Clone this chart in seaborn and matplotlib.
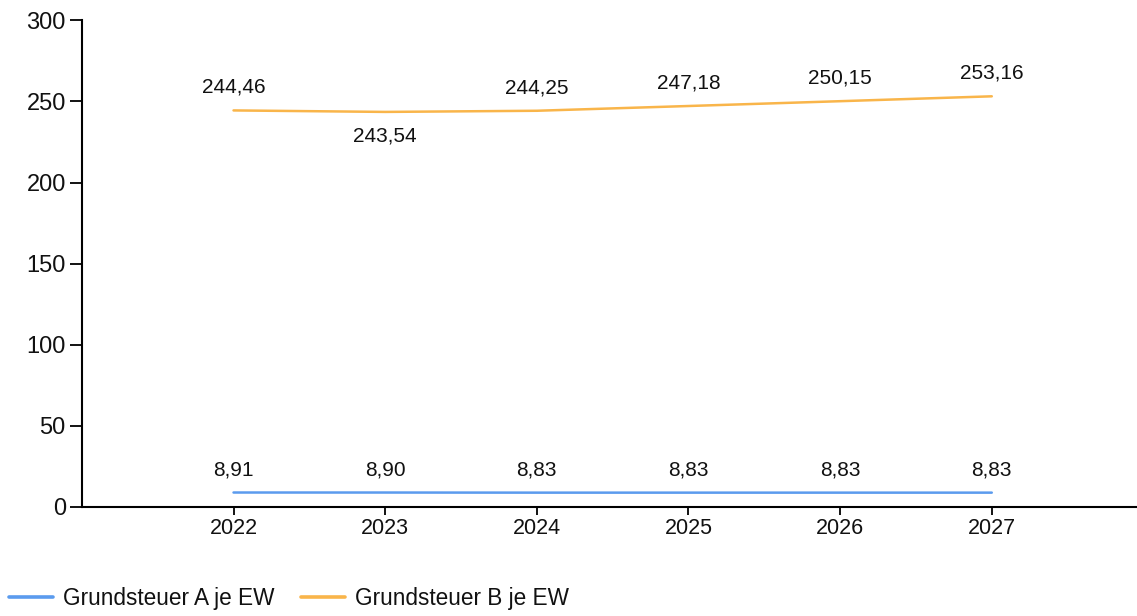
import matplotlib
matplotlib.use("Agg")
import matplotlib.pyplot as plt
import seaborn as sns
import pandas as pd
from matplotlib.lines import Line2D

years = [2022, 2023, 2024, 2025, 2026, 2027]
grundsteuer_a = [8.91, 8.90, 8.83, 8.83, 8.83, 8.83]
grundsteuer_b = [244.46, 243.54, 244.25, 247.18, 250.15, 253.16]
series_names = ["Grundsteuer A je EW", "Grundsteuer B je EW"]
y_ticks = [0, 50, 100, 150, 200, 250, 300]

sns.set_style("ticks")
plt.rcParams["font.family"] = ["Liberation Sans", "DejaVu Sans"]

df = pd.DataFrame({
    "Jahr": years * 2,
    "Wert": grundsteuer_a + grundsteuer_b,
    "Serie": [series_names[0]] * len(years) + [series_names[1]] * len(years),
})

colors = {series_names[0]: "#5B9BEE", series_names[1]: "#F9B54A"}

fig = plt.figure(figsize=(11.37, 6.16), dpi=100)
ax = fig.add_axes([0.072, 0.177, 0.927, 0.79])
sns.lineplot(data=df, x="Jahr", y="Wert", hue="Serie", palette=colors,
             linewidth=1.8, ax=ax, legend=False)

def fmt(v):
    return f"{v:.2f}".replace(".", ",")

for vals in (grundsteuer_a, grundsteuer_b):
    for i, (x, v) in enumerate(zip(years, vals)):
        below = 0 < i < len(vals) - 1 and v < vals[i - 1] and v < vals[i + 1] and v > 100
        off = -24 if below else 23
        ax.annotate(fmt(v), (x, v), xytext=(0, off), textcoords="offset pixels",
                    ha="center", va="center", fontsize=15, color="#111111")

ax.set_xlim(2021, 2027.95)
ax.set_ylim(0, 300)
ax.set_yticks(y_ticks)
ax.set_xticks(years)
ax.set_xticklabels([str(y) for y in years])
ax.tick_params(axis="y", labelsize=17, length=8.6, width=1.3, color="black", pad=3,
               labelcolor="#111111")
ax.tick_params(axis="x", labelsize=15.5, length=5.8, width=1.3, color="black", pad=2,
               labelcolor="#111111")
ax.set_xlabel("")
ax.set_ylabel("")
sns.despine(ax=ax)
for s in ("left", "bottom"):
    ax.spines[s].set_linewidth(1.5)
    ax.spines[s].set_color("black")

handles = [Line2D([0], [0], color=colors[n], lw=2.6) for n in series_names]
fig.legend(handles, series_names, loc="center left", bbox_to_anchor=(0.008, 0.029),
           ncol=2, frameon=False, fontsize=16.3, handlelength=1.95, handletextpad=0.44,
           columnspacing=1.15, borderpad=0, borderaxespad=0, labelcolor="#111111")

fig.savefig("out.png", dpi=100)
